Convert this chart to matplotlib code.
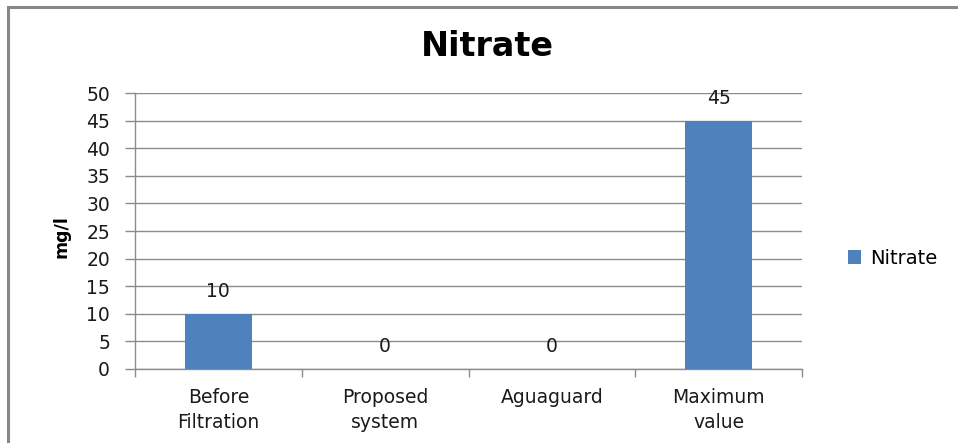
import matplotlib
matplotlib.use("Agg")
import matplotlib.pyplot as plt
from matplotlib.patches import Rectangle
from matplotlib.patches import Patch

categories = ["Before\nFiltration", "Proposed\nsystem", "Aguaguard", "Maximum\nvalue"]
nitrate = [10, 0, 0, 45]
yticks = [0, 5, 10, 15, 20, 25, 30, 35, 40, 45, 50]

plt.rcParams['font.family'] = ['DejaVu Sans']

W, H = 958, 443
fig = plt.figure(figsize=(W / 100, H / 100), dpi=100)

# outer chart frame (runs off the right and bottom edges)
fig.patches.append(Rectangle((8 / W, -0.1), 1.2, 1 - 7 / H + 0.1,
                             transform=fig.transFigure, fill=False,
                             edgecolor="#878787", linewidth=2.2))

ax = fig.add_axes([135 / W, 1 - 369 / H, (802 - 135) / W, (369 - 93) / H])

bar_color = "#4F81BD"
grid_color = "#8C8C8C"
text_color = "#1A1A1A"
x = range(len(categories))
ax.bar(x, nitrate, width=0.4, color=bar_color, zorder=3)

for xi, v in zip(x, nitrate):
    ax.annotate(str(v), (xi, v), xytext=(0, 9), textcoords="offset points",
                ha="center", va="bottom", fontsize=13.5, color=text_color)

ax.set_xlim(-0.5, len(categories) - 0.5)
ax.set_ylim(0, 50)
ax.set_yticks(yticks)
ax.tick_params(axis="y", length=7, width=1, color=grid_color,
               labelsize=13.5, pad=11, labelcolor=text_color)
ax.yaxis.grid(True, color=grid_color, linewidth=1, zorder=0)

ax.set_xticks(list(x))
ax.set_xticklabels(categories, fontsize=13.5, color=text_color, linespacing=1.36)
ax.tick_params(axis="x", length=0, pad=14)
ax.set_xticks([i - 0.5 for i in range(len(categories) + 1)], minor=True)
ax.tick_params(axis="x", which="minor", length=6, width=1, color=grid_color)

for side in ("top", "right"):
    ax.spines[side].set_visible(False)
for side in ("left", "bottom"):
    ax.spines[side].set_color(grid_color)
    ax.spines[side].set_linewidth(1)

fig.text(62 / W, 1 - 237 / H, "mg/l", rotation=90, ha="center", va="center",
         fontsize=12.5, fontweight="bold", color="#000000",
         family=["Liberation Sans Narrow", "DejaVu Sans"])

fig.text(487 / W, 1 - 47 / H, "Nitrate", ha="center", va="center",
         fontsize=24, fontweight="bold", color="#000000")

handle = Patch(facecolor=bar_color, edgecolor="none")
fig.legend([handle], ["Nitrate"], loc="center left",
           bbox_to_anchor=(830 / W, 1 - 258 / H), frameon=False,
           fontsize=14, handlelength=0.7, handleheight=0.7, handletextpad=0.45)

fig.savefig("out.png", dpi=100)
